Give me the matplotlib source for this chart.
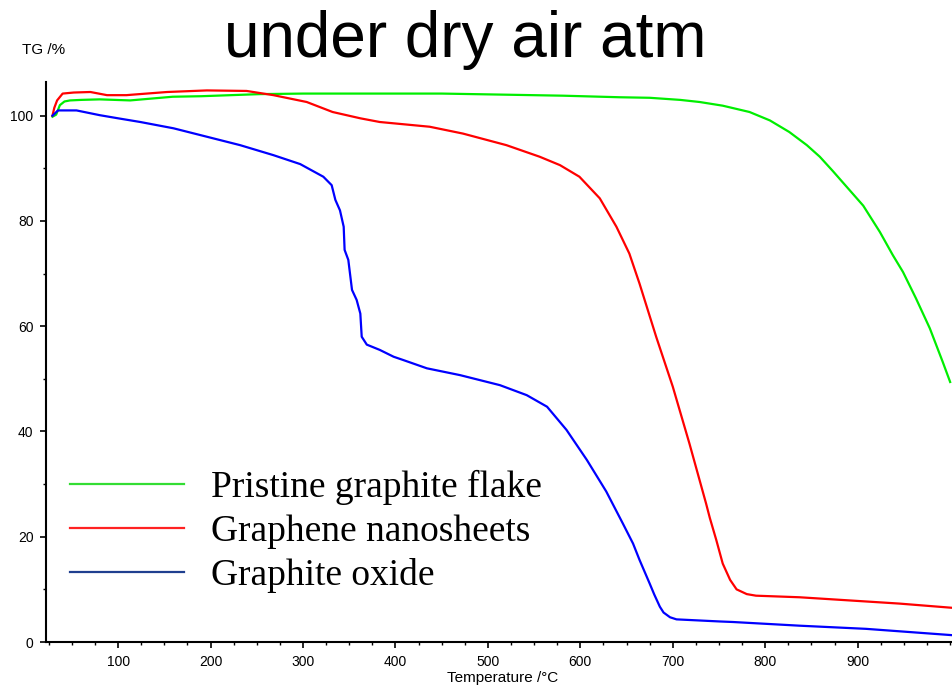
import matplotlib
matplotlib.use("Agg")
import matplotlib.pyplot as plt
from matplotlib.lines import Line2D
from matplotlib.ticker import MultipleLocator

# ---- data ----
green_T = [29, 33, 37, 42, 48, 60, 80, 113, 159, 190, 254, 300, 362, 383, 450, 516, 581,
           643, 675, 708, 729, 754, 783, 805, 826, 845, 859, 873, 891, 906, 924, 938, 949,
           963, 978, 992, 1000]
green_V = [99.8, 100.2, 102.0, 102.7, 102.9, 103.0, 103.1, 102.9, 103.6, 103.7, 104.1, 104.2,
           104.2, 104.2, 104.2, 104.0, 103.8, 103.5, 103.4, 103.0, 102.6, 101.9, 100.7, 99.1,
           96.9, 94.4, 92.2, 89.5, 85.9, 82.9, 77.9, 73.5, 70.3, 65.3, 59.6, 53.2, 49.4]

red_T = [29, 31, 34, 40, 52, 70, 88, 109, 116, 153, 196, 239, 268, 304, 332, 362, 383, 437,
         473, 520, 556, 578, 599, 621, 639, 653, 664, 682, 700, 718, 736, 740, 747, 754, 762,
         769, 780, 790, 837, 873, 945, 1002]
red_V = [100.0, 101.5, 102.9, 104.2, 104.4, 104.5, 103.9, 103.9, 104.0, 104.5, 104.8, 104.7,
         103.9, 102.6, 100.7, 99.5, 98.8, 97.9, 96.6, 94.4, 92.2, 90.6, 88.4, 84.3, 78.9, 73.8,
         68.1, 58.0, 48.5, 37.7, 26.3, 23.6, 19.4, 14.9, 11.8, 10.0, 9.1, 8.8, 8.5, 8.1, 7.3,
         6.5]

blue_T = [29, 35, 55, 80, 100, 124, 160, 196, 232, 268, 297, 322, 331, 335, 340, 344, 345,
          349, 353, 358, 362, 363.5, 369, 383, 398, 408, 434, 470, 513, 542, 564, 585, 607,
          628, 646, 657, 664, 675, 680, 686, 690, 697, 704, 751, 765, 837, 909, 1002]
blue_V = [100.0, 101.0, 101.0, 100.1, 99.5, 98.8, 97.6, 96.0, 94.4, 92.5, 90.8, 88.4, 86.8,
          84.0, 82.0, 78.9, 74.5, 72.6, 66.9, 65.0, 62.4, 58.0, 56.5, 55.5, 54.2, 53.6, 52.0,
          50.7, 48.8, 46.9, 44.7, 40.3, 34.6, 28.6, 22.5, 18.7, 15.6, 11.1, 9.0, 6.7, 5.6,
          4.7, 4.3, 3.9, 3.8, 3.1, 2.5, 1.3]

labels = ["Pristine graphite flake", "Graphene nanosheets", "Graphite oxide"]
curve_colors = ["#00ee00", "#ff0000", "#0000ff"]
legend_colors = ["#33dd33", "#ff2222", "#1f3f8f"]

fig = plt.figure(figsize=(9.52, 6.87), dpi=100)
ax = fig.add_axes([46 / 952, 45 / 687, 906 / 952, 560 / 687])

for T, V, c in zip([green_T, red_T, blue_T], [green_V, red_V, blue_V], curve_colors):
    ax.plot(T, V, color=c, lw=1.6)

ax.set_xlim(22, 1002)
ax.set_ylim(0, 106.4)
ax.set_xticks([100, 200, 300, 400, 500, 600, 700, 800, 900])
ax.xaxis.set_minor_locator(MultipleLocator(25))
ax.yaxis.set_major_locator(MultipleLocator(20))
ax.yaxis.set_minor_locator(MultipleLocator(10))

for s in ["top", "right"]:
    ax.spines[s].set_visible(False)
for s in ["left", "bottom"]:
    ax.spines[s].set_linewidth(1.5)

ax.tick_params(which="major", length=4, width=1.2, pad=5, labelsize=10)
ax.tick_params(which="minor", length=2.5, width=1.0)
for lbl in ax.get_xticklabels() + ax.get_yticklabels():
    lbl.set_fontfamily("Liberation Sans")

handles = [Line2D([], [], color=c, lw=1.6) for c in legend_colors]
ax.legend(handles, labels, loc="upper left", bbox_to_anchor=(24 / 906, 172 / 560),
          borderaxespad=0, borderpad=0, frameon=False,
          prop={"family": "Liberation Serif", "size": 27},
          handlelength=3.05, handletextpad=0.72, labelspacing=0.25)

fig.text(465 / 952, 1 - 57 / 687, "under dry air atm", ha="center", va="baseline",
         fontsize=46, family="Liberation Sans")
fig.text(22 / 952, 1 - 50 / 687, "TG /%", ha="left", va="center",
         fontsize=11, family="Liberation Sans")
fig.text(503 / 952, 1 - 671 / 687, "Temperature /°C", ha="center", va="top",
         fontsize=11, family="Liberation Sans")

fig.savefig("out.png", dpi=100)
